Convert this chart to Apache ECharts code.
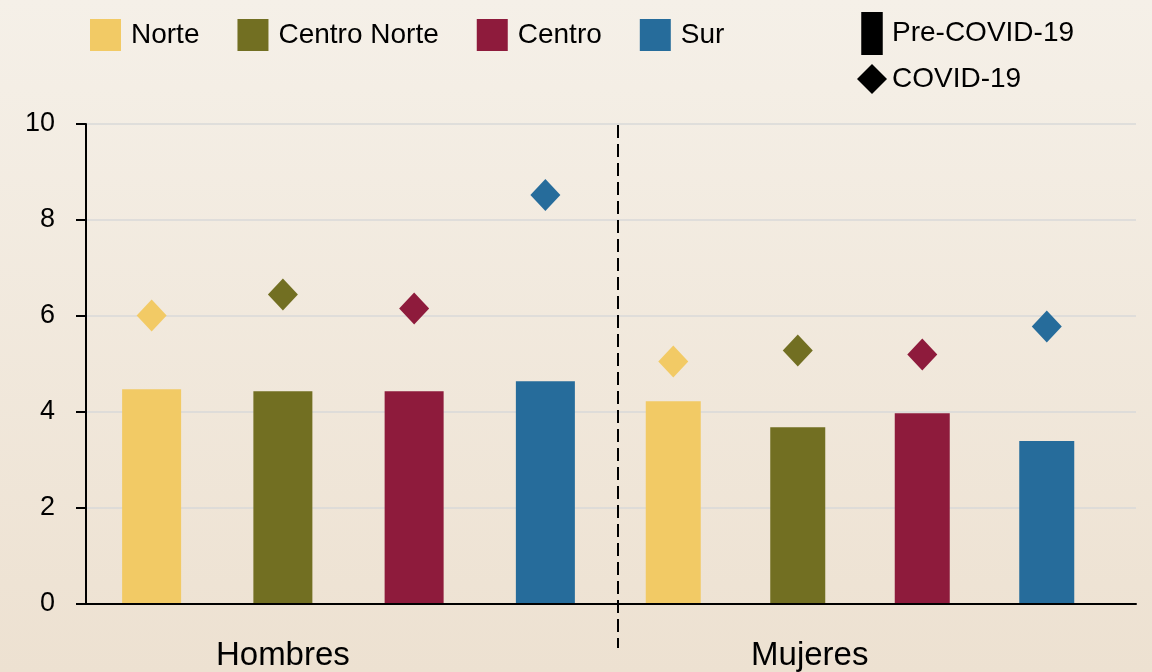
<!DOCTYPE html>
<html>
<head>
<meta charset="utf-8">
<script src="https://cdn.jsdelivr.net/npm/echarts@6/dist/echarts.min.js"></script>
<style>
  html, body { margin: 0; padding: 0; }
  #chart {
    width: 1152px;
    height: 672px;
    background: linear-gradient(to bottom, #f5f0e8 0%, #ede1d1 100%);
  }
</style>
</head>
<body>
<div id="chart"></div>
<script>
const groups = ['Hombres', 'Mujeres'];
const regions = ['Norte', 'Centro Norte', 'Centro', 'Sur'];
const regionColors = ['#f2ca65', '#726f22', '#8e1b3c', '#266c9b'];
// Pre-COVID-19 (barras), por grupo
const preHombres = [4.46, 4.42, 4.42, 4.63];
const preMujeres = [4.21, 3.67, 3.96, 3.38];
// COVID-19 (rombos), por grupo
const covidHombres = [6.0, 6.44, 6.15, 8.52];
const covidMujeres = [5.04, 5.27, 5.19, 5.77];
const yTicks = [0, 2, 4, 6, 8, 10];

const FONT = '"Liberation Sans", Arial, sans-serif';
const chart = echarts.init(document.getElementById('chart'));

// grids: 0 = marco con ejes, 1 = Hombres, 2 = Mujeres
const grids = [
  { left: 86, right: 16, top: 124, bottom: 68 },
  { left: 86, width: 525, top: 124, bottom: 68 },
  { left: 611, width: 498, top: 124, bottom: 68 },
];

const yBase = { type: 'value', min: yTicks[0], max: yTicks[yTicks.length - 1], interval: 2 };

function groupXAxis(gi) {
  return {
    type: 'category',
    gridIndex: gi + 1,
    data: regions,
    axisLine: { show: false },
    axisTick: { show: false },
    axisLabel: {
      interval: 0,
      margin: 36,
      fontSize: 33,
      color: '#000',
      fontFamily: FONT,
      padding: gi === 1 ? [0, 0, 0, 24] : 0,
      formatter: (v, i) => (i === 1 ? groups[gi] : ''),
    },
  };
}

function preSeries(values, gi, barWidth) {
  return regions.map((name, r) => ({
    name,
    type: 'bar',
    xAxisIndex: gi + 1,
    yAxisIndex: gi + 1,
    stack: 'pre' + gi,
    barWidth,
    itemStyle: { color: regionColors[r] },
    data: values.map((v, i) => (i === r ? v : '-')),
  }));
}

function covidSeries(values, gi) {
  return {
    name: 'COVID-19',
    type: 'scatter',
    xAxisIndex: gi + 1,
    yAxisIndex: gi + 1,
    symbol: 'diamond',
    symbolSize: [30, 32],
    itemStyle: { color: '#000', opacity: 1 },
    z: 4,
    data: values.map((v, i) => ({ value: v, itemStyle: { color: regionColors[i], opacity: 1 } })),
  };
}

const option = {
  animation: false,
  textStyle: { fontFamily: FONT },
  grid: grids,
  legend: [
    {
      data: regions,
      left: 85,
      top: 14,
      icon: 'rect',
      itemWidth: 31,
      itemHeight: 32,
      itemGap: 38,
      textStyle: { fontSize: 28, color: '#000', fontFamily: FONT, padding: [0, 0, 4, 5] },
    },
    {
      data: [
        { name: 'Pre-COVID-19', icon: 'path://M0,0h1v2h-1z', itemStyle: { color: '#000', opacity: 1 } },
        { name: 'COVID-19', icon: 'path://M1,0L2,1L1,2L0,1Z', itemStyle: { color: '#000', opacity: 1 } },
      ],
      orient: 'vertical',
      left: 852,
      top: 7,
      itemWidth: 30,
      itemHeight: 43,
      itemGap: 9,
      textStyle: { fontSize: 28, color: '#000', fontFamily: FONT },
    },
  ],
  xAxis: [
    {
      type: 'value',
      gridIndex: 0,
      min: 0,
      max: 1,
      z: 5,
      axisLine: { show: true, lineStyle: { color: '#000', width: 2 } },
      axisTick: { show: false },
      axisLabel: { show: false },
      splitLine: { show: false },
    },
    groupXAxis(0),
    groupXAxis(1),
  ],
  yAxis: [
    {
      ...yBase,
      gridIndex: 0,
      axisLine: { show: true, lineStyle: { color: '#000', width: 2 } },
      axisTick: { show: true, length: 10, lineStyle: { color: '#000', width: 2 } },
      axisLabel: { margin: 31, fontSize: 27, color: '#000', fontFamily: FONT },
      splitLine: { show: true, lineStyle: { color: '#d9d9d9', width: 1.5 } },
    },
    { ...yBase, gridIndex: 1, show: false },
    { ...yBase, gridIndex: 2, show: false },
  ],
  series: [
    ...preSeries(preHombres, 0, 59),
    ...preSeries(preMujeres, 1, 55),
    { name: 'Pre-COVID-19', type: 'bar', xAxisIndex: 1, yAxisIndex: 1, stack: 'pre0', itemStyle: { color: '#000' }, data: [] },
    covidSeries(covidHombres, 0),
    covidSeries(covidMujeres, 1),
  ],
  graphic: [
    {
      type: 'line',
      shape: { x1: 618, y1: 125, x2: 618, y2: 648 },
      style: { stroke: '#000', lineWidth: 2, lineDash: [13, 6] },
      z: 10,
    },
  ],
};

chart.setOption(option);
</script>
</body>
</html>
